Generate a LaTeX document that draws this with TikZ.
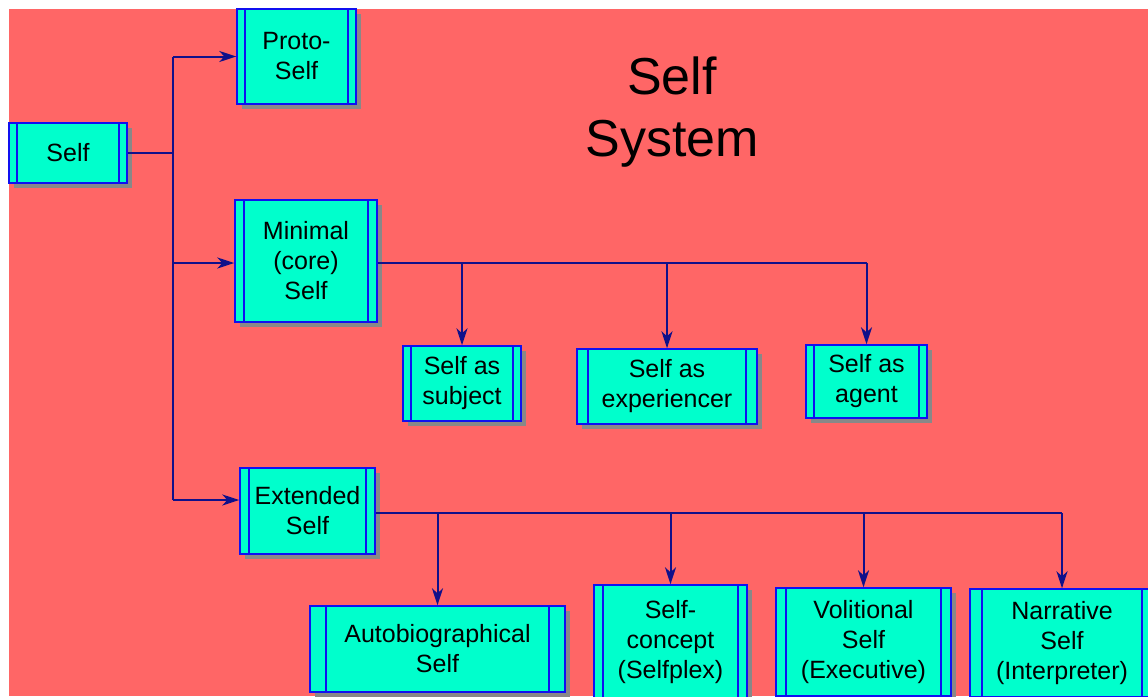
\documentclass[tikz,border=0pt]{standalone}
\usepackage{fontspec}
\setmainfont{Liberation Sans}
\usetikzlibrary{arrows.meta, shadows}

\definecolor{bgred}{HTML}{FF6666}
\definecolor{boxcyan}{HTML}{00FFCC}
\definecolor{boxblue}{HTML}{1010F0}
\definecolor{linenavy}{HTML}{10108A}
\definecolor{shadowgray}{HTML}{888888}

\tikzset{
    gap/.code={\def\boxgap{#1}},
    gap=8pt,
    box/.style={fill=boxcyan, draw=boxblue, line width=1.4pt, inner sep=0pt,
        align=center, font=\fontsize{25}{30}\selectfont,
        drop shadow={shadow xshift=5pt, shadow yshift=-5pt, fill=shadowgray, opacity=1},
        path picture={
            \draw[boxblue, line width=1.2pt]
                ([xshift=\boxgap]path picture bounding box.north west) -- ([xshift=\boxgap]path picture bounding box.south west)
                ([xshift=-\boxgap]path picture bounding box.north east) -- ([xshift=-\boxgap]path picture bounding box.south east);
        }},
    link/.style={draw=linenavy, line width=2pt},
    arrow/.style={link, -{Stealth[length=17pt, width=11pt, inset=5pt]}}
}

\begin{document}
\begin{tikzpicture}[x=1pt, y=-1pt]
        \useasboundingbox (0,0) rectangle (1148,696);
        \clip (0,0) rectangle (1148,696);
        \fill[white] (0,0) rectangle (1148,696);
        \fill[bgred] (9,9) rectangle (1148,696);

        \node (title) at (672,112) [align=center, font=\fontsize{52}{62}\selectfont] {Self\\System};

        % left column
        \node (self) at (68,153) [box, minimum width=118pt, minimum height=60pt] {Self};
        \node (proto) at (296.5,56.5) [box, minimum width=119pt, minimum height=95pt] {Proto-\\Self};
        \node (minimal) at (306,261) [box, minimum width=142pt, minimum height=122pt, gap=9pt] {Minimal\\(core)\\Self};
        \node (extended) at (307.5,511) [box, minimum width=135pt, minimum height=86pt, gap=9pt] {Extended\\Self};

        % minimal self
        \node (subject) at (462,383.5) [box, minimum width=118pt, minimum height=75pt] {Self as\\subject};
        \node (experiencer) at (667,386.5) [box, minimum width=180pt, minimum height=75pt, gap=11pt] {Self as\\experiencer};
        \node (agent) at (866.5,381.5) [box, minimum width=121pt, minimum height=73pt] {Self as\\agent};

        % extended self
        \node (autobio) at (437.5,649) [box, minimum width=255pt, minimum height=86pt, gap=16pt] {Autobiographical\\Self};
        \node (concept) at (670.5,642) [box, minimum width=153pt, minimum height=114pt, gap=9pt] {Self-\\concept\\(Selfplex)};
        \node (volitional) at (863.5,642) [box, minimum width=175pt, minimum height=108pt, gap=10pt] {Volitional\\Self\\(Executive)};
        \node (narrative) at (1062,643) [box, minimum width=184pt, minimum height=108pt, gap=12pt] {Narrative\\Self\\(Interpreter)};

        \coordinate (trunk) at (173,0);
        \draw[link] (self.east) -- (self.east -| trunk);
        \draw[link] (proto.west -| trunk) -- ([yshift=11pt]extended.west -| trunk);
        \draw[arrow] (proto.west -| trunk) -- (proto.west);
        \draw[arrow] ([yshift=-2pt]minimal.west -| trunk) -- ([yshift=-2pt]minimal.west);
        \draw[arrow] ([yshift=11pt]extended.west -| trunk) -- ([yshift=11pt]extended.west);

        \draw[link] ([yshift=-2pt]minimal.east) -- ([yshift=-2pt]minimal.east -| agent.north);
        \foreach \n in {subject, experiencer, agent}
            \draw[arrow] ([yshift=-2pt]minimal.east -| \n.north) -- (\n.north);

        \draw[link] ([yshift=-2pt]extended.east) -- ([yshift=-2pt]extended.east -| narrative.north);
        \foreach \n in {autobio, concept, volitional, narrative}
            \draw[arrow] ([yshift=-2pt]extended.east -| \n.north) -- (\n.north);
\end{tikzpicture}
\end{document}
